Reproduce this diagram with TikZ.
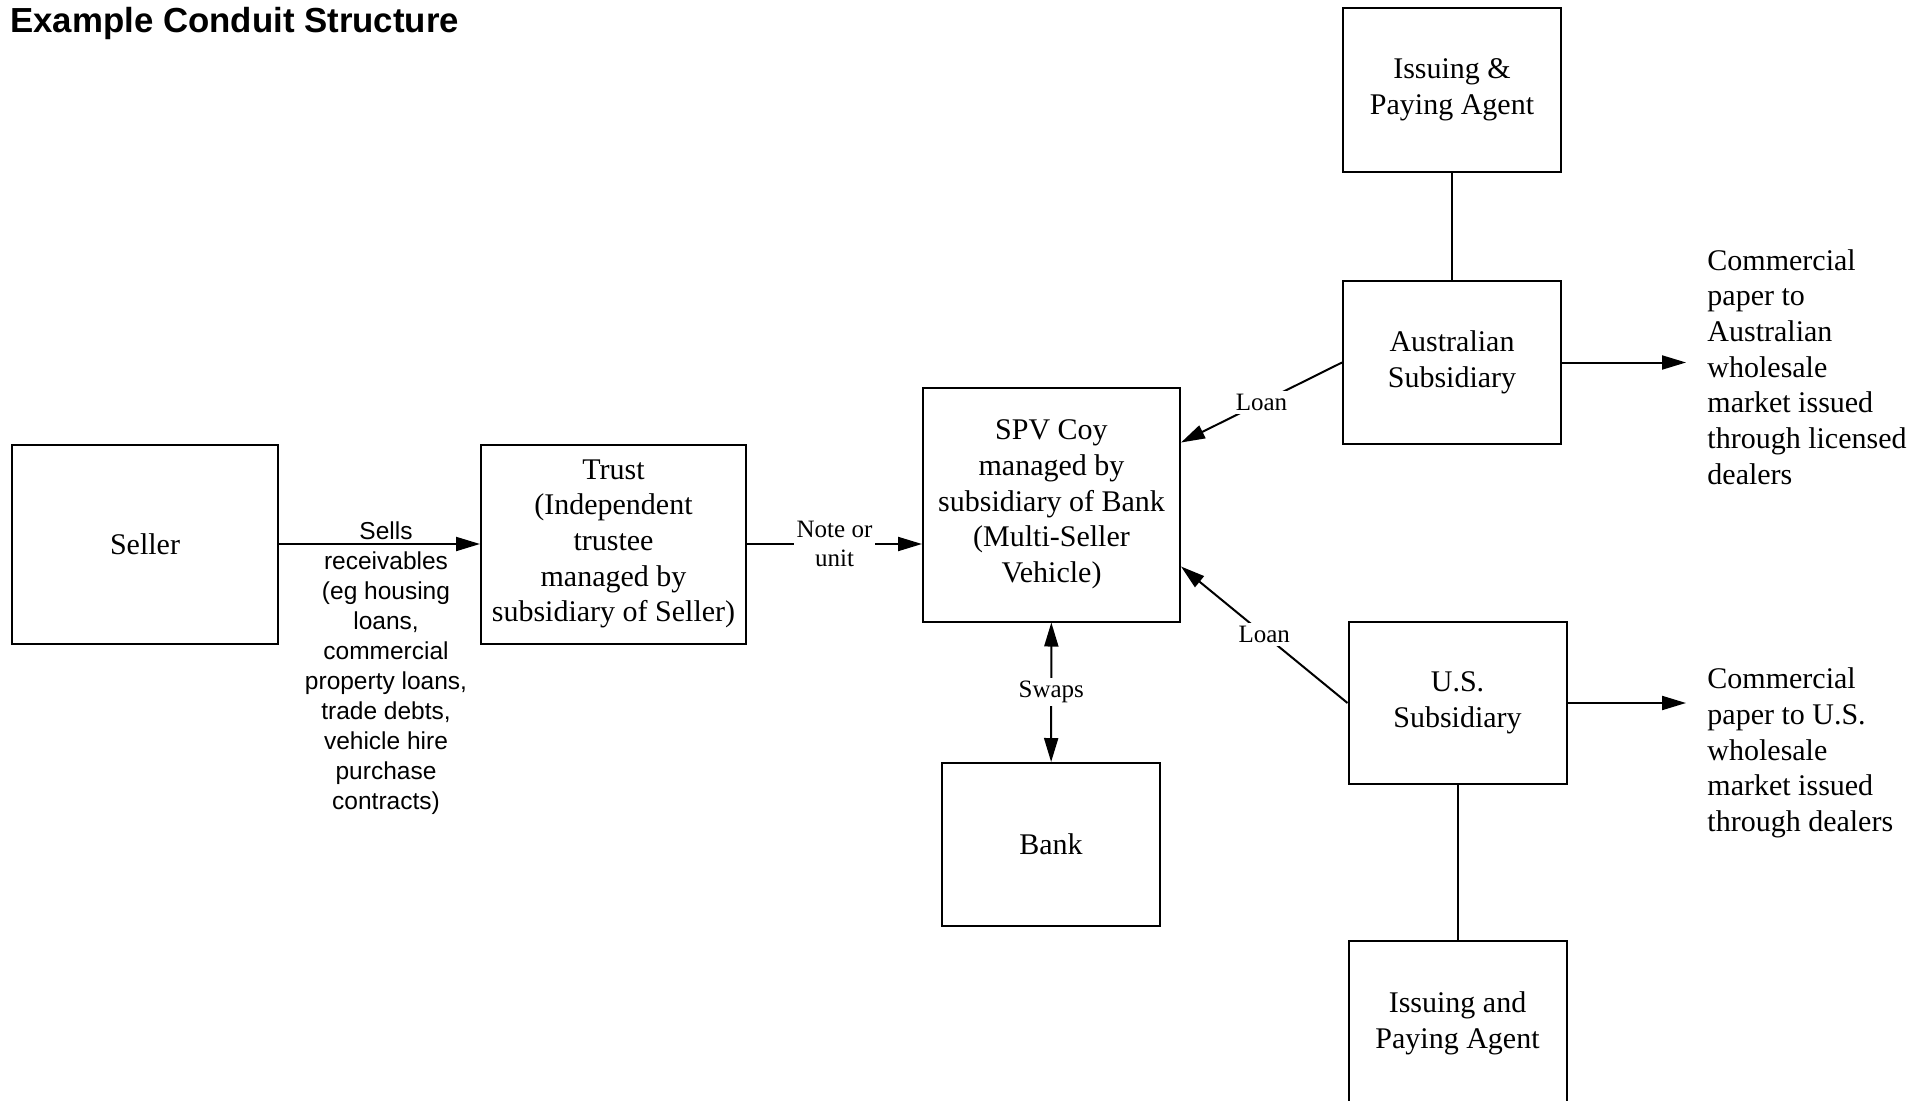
\documentclass[tikz,border=0pt]{standalone}
\usepackage{fontspec}
\setmainfont{Liberation Serif}
\setsansfont{Liberation Sans}
\usetikzlibrary{arrows.meta}

\begin{document}
\begin{tikzpicture}[x=0.5pt,y=-0.5pt,
    box/.style={draw,line width=1pt,inner sep=0pt,align=center,
      font=\fontsize{15}{17.85}\selectfont},
    tip/.style={line width=1pt,-{Triangle[length=12pt,width=7pt]}},
    tips/.style={line width=1pt,{Triangle[length=12pt,width=7pt]}-{Triangle[length=12pt,width=7pt]}},
    link/.style={line width=1pt},
    lbl/.style={fill=white,inner sep=1.5pt,align=center,
      font=\fontsize{12.5}{14.75}\selectfont},
    paper/.style={anchor=west,inner sep=0pt,align=left,
      font=\fontsize{15}{17.85}\selectfont}]
  \useasboundingbox (0,0) rectangle (1930,1101);

  \node [anchor=base west,inner sep=0pt,
  font=\sffamily\bfseries\fontsize{17.4}{21}\selectfont] (title) at (10,33)
  {Example Conduit Structure};

  % boxes
  \node [box,minimum width=133pt,minimum height=99.5pt] (seller) at (145,544) {Seller};

  \node [box,minimum width=132.5pt,minimum height=99.5pt] (trust) at (613.5,544)
  {Trust\\(Independent\\trustee\\managed by\\subsidiary of Seller)};

  \node [box,minimum width=128.5pt,minimum height=117pt] (spv) at (1051.5,504.5)
  {SPV Coy\\managed by\\subsidiary of Bank\\(Multi-Seller\\Vehicle)};

  \node [box,minimum width=109pt,minimum height=81.5pt] (bank) at (1051,844.5) {Bank};

  \node [box,minimum width=109pt,minimum height=82pt] (iptop) at (1452,90)
  {Issuing \&\\Paying Agent};

  \node [box,minimum width=109pt,minimum height=81.5pt] (aus) at (1452,362.5)
  {Australian\\Subsidiary};

  \node [box,minimum width=109pt,minimum height=81pt] (us) at (1457.5,703)
  {U.S.\\Subsidiary};

  \node [box,minimum width=109pt,minimum height=82pt] (ipbot) at (1457.5,1023)
  {Issuing and\\Paying Agent};

  % texts on the right
  \node [paper] (auspaper) at (1707,367)
  {Commercial\\paper to\\Australian\\wholesale\\market issued\\through licensed\\dealers};

  \node [paper] (uspaper) at (1707,753)
  {Commercial\\paper to U.S.\\wholesale\\market issued\\through dealers};

  % connectors
  \draw [tip] (seller) -- (trust);
  \node [align=center,inner sep=0pt,
  font=\sffamily\fontsize{12.25}{15}\selectfont] (sells) at (386,668)
  {Sells\\receivables\\(eg housing\\loans,\\commercial\\property loans,\\trade debts,\\vehicle hire\\purchase\\contracts)};

  \draw [tip] (trust.east) -- node [lbl] {Note or\\unit} (trust.east -| spv.west);

  \draw [tip] (aus.west) -- node [lbl] {Loan} ([yshift=31pt]spv.east);
  \draw [tip] (us.west) -- node [lbl] {Loan} ([yshift=-31pt]spv.east);

  \draw [tips] (spv) -- node [lbl] {Swaps} (bank);

  \draw [link] (iptop) -- (aus);
  \draw [link] (us) -- (ipbot);

  \draw [tip] (aus.east) -- ([xshift=-10.5pt]aus.east -| auspaper.west);
  \draw [tip] (us.east) -- ([xshift=-10.5pt]us.east -| uspaper.west);
\end{tikzpicture}
\end{document}
